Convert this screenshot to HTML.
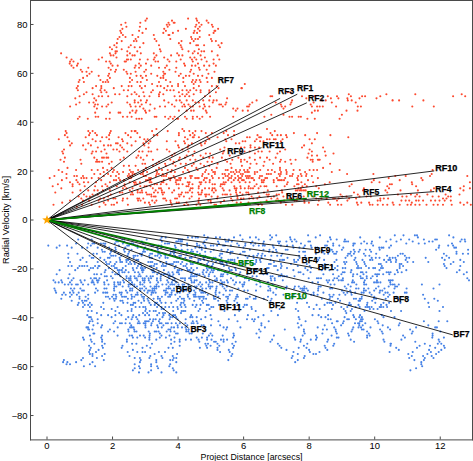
<!DOCTYPE html>
<html><head><meta charset="utf-8"><style>html,body{margin:0;padding:0;background:#fff;width:473px;height:461px;overflow:hidden}svg{display:block}</style></head>
<body><svg width="473" height="461" viewBox="0 0 473 461">
<rect width="473" height="461" fill="#fff"/>
<path fill="none" stroke="#fd4a2f" stroke-width="2.1" stroke-linecap="round" d="M113.9 169.93h0M117.3 171.98h0M116.0 176.07h0M118.8 178.11h0M118.9 174.02h0M112.8 171.98h0M129.8 169.93h0M128.9 174.02h0M127.8 176.07h0M128.9 178.11h0M123.1 171.98h0M130.0 176.07h0M138.1 169.93h0M140.7 174.02h0M132.5 174.02h0M132.2 176.07h0M134.7 174.02h0M131.0 171.98h0M131.0 178.11h0M133.0 171.98h0M143.9 169.93h0M142.8 174.02h0M147.1 171.98h0M143.1 171.98h0M143.8 176.07h0M149.1 178.11h0M145.9 176.07h0M156.1 169.93h0M156.0 176.07h0M150.9 178.11h0M158.8 174.02h0M157.1 171.98h0M156.7 174.02h0M162.0 169.93h0M167.7 169.93h0M163.9 176.07h0M168.9 178.11h0M166.1 176.07h0M166.8 174.02h0M161.8 176.07h0M162.8 174.02h0M171.8 169.93h0M173.7 176.07h0M179.2 178.11h0M171.0 171.98h0M171.0 178.11h0M174.9 171.98h0M174.8 178.11h0M187.7 169.93h0M183.1 171.98h0M181.0 178.11h0M190.2 176.07h0M185.3 178.11h0M189.0 171.98h0M197.7 169.93h0M190.8 178.11h0M197.1 178.11h0M191.9 176.07h0M195.2 178.11h0M198.7 178.11h0M206.0 169.93h0M205.1 171.98h0M206.8 178.11h0M202.7 174.02h0M208.6 174.02h0M204.8 178.11h0M202.1 176.07h0M211.9 169.93h0M218.9 178.11h0M213.2 171.98h0M212.8 178.11h0M214.9 174.02h0M211.9 176.07h0M215.0 171.98h0M227.7 169.93h0M225.7 169.93h0M225.6 176.07h0M228.9 174.02h0M229.1 178.11h0M227.8 176.07h0M224.8 174.02h0M223.2 178.11h0M222.5 174.02h0M240.1 169.93h0M235.9 169.93h0M239.0 178.11h0M231.7 176.07h0M231.0 171.98h0M235.3 178.11h0M239.2 171.98h0M234.8 174.02h0M233.3 171.98h0M238.0 176.07h0M236.7 171.98h0M231.1 178.11h0M240.8 174.02h0M244.1 169.93h0M247.6 169.93h0M247.9 176.07h0M242.1 176.07h0M245.9 176.07h0M249.8 176.07h0M247.1 171.98h0M242.9 174.02h0M248.9 171.98h0M240.9 178.11h0M248.8 178.11h0M245.0 171.98h0M246.8 178.11h0M260.2 169.93h0M257.2 171.98h0M260.0 176.07h0M252.8 178.11h0M259.3 178.11h0M254.8 174.02h0M254.8 171.98h0M251.3 178.11h0M268.0 169.93h0M265.3 178.11h0M267.1 178.11h0M262.0 176.07h0M268.8 174.02h0M271.0 174.02h0M266.8 174.02h0M280.0 169.93h0M271.9 169.93h0M274.8 171.98h0M280.8 174.02h0M276.9 178.11h0M278.8 174.02h0M279.8 176.07h0M286.1 169.93h0M286.7 171.98h0M285.2 178.11h0M281.0 171.98h0M290.0 176.07h0M286.6 174.02h0M299.8 169.93h0M293.6 169.93h0M292.1 176.07h0M298.2 176.07h0M297.3 178.11h0M300.8 174.02h0M292.8 174.02h0M309.6 169.93h0M306.5 174.02h0M305.1 171.98h0M306.1 176.07h0M301.6 176.07h0M120.0 180.16h0M116.1 180.16h0M113.9 180.16h0M116.8 186.29h0M113.4 198.56h0M119.9 192.43h0M115.4 198.56h0M122.9 188.34h0M124.6 184.25h0M129.7 182.20h0M124.7 186.29h0M126.5 188.34h0M124.0 180.16h0M123.0 198.56h0M129.8 190.38h0M130.9 194.47h0M127.3 198.56h0M122.3 192.43h0M132.5 188.34h0M139.9 182.20h0M140.3 186.29h0M134.7 184.25h0M136.7 184.25h0M133.9 182.20h0M135.6 182.20h0M140.1 192.43h0M137.4 198.56h0M133.0 194.47h0M137.6 190.38h0M137.7 192.43h0M132.1 192.43h0M139.2 198.56h0M150.2 180.16h0M146.6 186.29h0M144.6 186.29h0M147.9 180.16h0M149.7 182.20h0M150.5 186.29h0M146.0 180.16h0M146.1 192.43h0M147.1 194.47h0M143.3 198.56h0M149.1 194.47h0M141.8 190.38h0M142.2 192.43h0M151.2 194.47h0M160.9 188.34h0M154.6 184.25h0M160.8 184.25h0M152.8 188.34h0M157.0 184.25h0M159.0 188.34h0M151.4 182.20h0M155.6 190.38h0M157.9 192.43h0M154.0 192.43h0M155.6 196.52h0M151.5 196.52h0M154.0 196.52h0M163.8 180.16h0M169.0 188.34h0M170.2 180.16h0M163.4 182.20h0M166.5 184.25h0M161.8 182.20h0M162.0 192.43h0M161.8 190.38h0M163.3 198.56h0M165.0 198.56h0M162.8 194.47h0M164.1 192.43h0M178.8 188.34h0M176.2 180.16h0M180.2 180.16h0M175.8 182.20h0M176.6 184.25h0M178.7 184.25h0M177.9 180.16h0M179.4 196.52h0M172.2 192.43h0M175.1 198.56h0M178.8 194.47h0M181.0 194.47h0M174.1 190.38h0M177.0 198.56h0M190.7 188.34h0M188.9 184.25h0M186.5 186.29h0M189.6 182.20h0M187.7 182.20h0M182.6 184.25h0M188.4 186.29h0M189.5 198.56h0M187.9 192.43h0M181.9 192.43h0M183.9 196.52h0M185.8 192.43h0M189.8 190.38h0M198.7 188.34h0M192.6 188.34h0M200.7 184.25h0M199.6 182.20h0M192.5 184.25h0M198.8 186.29h0M200.9 194.47h0M199.1 198.56h0M191.7 196.52h0M198.2 192.43h0M199.0 194.47h0M192.2 192.43h0M209.6 182.20h0M209.1 188.34h0M203.8 180.16h0M205.7 182.20h0M201.4 182.20h0M205.0 188.34h0M209.8 180.16h0M205.1 194.47h0M205.8 196.52h0M201.7 192.43h0M202.1 190.38h0M209.1 194.47h0M206.7 194.47h0M214.9 184.25h0M220.9 184.25h0M214.6 188.34h0M212.5 184.25h0M212.6 188.34h0M220.5 186.29h0M215.8 190.38h0M217.7 196.52h0M217.1 198.56h0M211.6 196.52h0M212.1 190.38h0M213.8 192.43h0M224.5 184.25h0M223.7 182.20h0M225.8 182.20h0M222.6 188.34h0M222.6 184.25h0M228.2 180.16h0M229.6 190.38h0M225.1 194.47h0M227.0 194.47h0M230.6 194.47h0M223.8 190.38h0M222.7 194.47h0M234.3 186.29h0M239.7 182.20h0M231.5 182.20h0M240.4 186.29h0M233.8 180.16h0M236.6 188.34h0M234.7 188.34h0M240.8 188.34h0M238.2 180.16h0M236.1 192.43h0M237.4 196.52h0M237.5 198.56h0M236.8 194.47h0M236.0 190.38h0M240.1 192.43h0M231.1 198.56h0M242.1 180.16h0M248.8 186.29h0M245.5 182.20h0M243.8 180.16h0M249.7 182.20h0M250.8 188.34h0M244.8 188.34h0M248.5 188.34h0M242.6 194.47h0M248.9 194.47h0M246.3 192.43h0M248.2 192.43h0M241.0 198.56h0M243.5 198.56h0M249.3 198.56h0M258.6 188.34h0M256.6 184.25h0M260.6 186.29h0M253.0 188.34h0M254.1 180.16h0M254.6 186.29h0M259.4 196.52h0M253.2 198.56h0M251.6 196.52h0M257.3 198.56h0M258.1 192.43h0M261.8 180.16h0M261.9 182.20h0M266.4 186.29h0M263.5 182.20h0M264.5 186.29h0M264.0 180.16h0M267.8 190.38h0M266.7 194.47h0M268.8 194.47h0M264.0 192.43h0M267.9 196.52h0M273.8 182.20h0M279.9 180.16h0M273.7 180.16h0M276.7 186.29h0M278.1 180.16h0M277.4 198.56h0M271.3 198.56h0M273.9 196.52h0M279.0 194.47h0M276.7 194.47h0M286.9 184.25h0M284.0 180.16h0M287.7 182.20h0M284.7 186.29h0M281.8 180.16h0M283.4 196.52h0M289.3 198.56h0M281.9 190.38h0M287.1 194.47h0M282.2 192.43h0M298.5 188.34h0M300.8 188.34h0M297.0 184.25h0M298.6 184.25h0M294.4 186.29h0M297.9 180.16h0M300.0 190.38h0M295.8 190.38h0M297.6 190.38h0M297.2 198.56h0M291.1 198.56h0M302.4 186.29h0M308.0 180.16h0M304.9 184.25h0M301.4 182.20h0M306.8 186.29h0M303.7 196.52h0M303.9 190.38h0M301.8 190.38h0M305.7 190.38h0M307.9 192.43h0M117.0 202.65h0M114.0 204.70h0M122.6 200.61h0M127.9 204.70h0M138.1 200.61h0M140.6 200.61h0M144.9 202.65h0M150.0 204.70h0M149.0 202.65h0M152.2 200.61h0M154.7 202.65h0M156.4 200.61h0M170.8 202.65h0M170.4 200.61h0M166.3 200.61h0M176.7 202.65h0M171.8 204.70h0M178.9 202.65h0M184.3 204.70h0M188.1 204.70h0M186.5 202.65h0M200.3 204.70h0M198.6 202.65h0M198.5 200.61h0M196.4 204.70h0M211.0 202.65h0M208.3 200.61h0M210.6 200.61h0M220.7 202.65h0M216.0 204.70h0M214.4 204.70h0M228.4 204.70h0M224.1 200.61h0M232.5 200.61h0M240.8 202.65h0M236.7 202.65h0M245.9 204.70h0M248.5 202.65h0M260.7 202.65h0M258.3 204.70h0M266.6 200.61h0M262.0 204.70h0M278.5 200.61h0M276.1 200.61h0M280.8 202.65h0M285.9 204.70h0M284.1 200.61h0M292.3 204.70h0M294.6 200.61h0M296.7 200.61h0M304.3 200.61h0M304.5 202.65h0M308.9 202.65h0M314.5 96.31h0M322.3 100.41h0M325.7 100.41h0M327.8 96.31h0M330.9 98.36h0M337.0 96.31h0M338.4 98.36h0M348.8 94.27h0M350.9 96.31h0M347.4 98.36h0M347.8 100.41h0M351.7 100.41h0M359.5 98.36h0M362.1 96.31h0M365.1 96.31h0M376.5 98.36h0M380.3 96.31h0M386.4 94.27h0M392.5 100.41h0M313.6 102.45h0M311.9 106.54h0M317.1 106.54h0M319.7 106.54h0M322.8 106.54h0M331.8 102.45h0M336.1 106.54h0M355.7 102.45h0M357.8 106.54h0M360.9 106.54h0M311.9 112.67h0M314.8 110.63h0M317.9 110.63h0M346.5 110.63h0M357.5 110.63h0M314.8 118.81h0M339.6 118.81h0M341.9 114.72h0M317.1 133.12h0M330.4 135.17h0M348.3 137.21h0M314.8 139.26h0M311.9 143.35h0M323.1 147.44h0M324.9 151.53h0M311.9 151.53h0M333.5 153.57h0M325.7 155.62h0M317.1 155.62h0M311.9 155.62h0M317.9 159.71h0M319.7 159.71h0M312.7 159.71h0M392.7 100.41h0M399.1 100.41h0M415.3 94.27h0M423.4 100.41h0M412.3 106.54h0M433.8 106.54h0M453.1 96.31h0M461.7 94.27h0M465.2 96.31h0M312.7 161.75h0M318.8 159.71h0M330.1 163.80h0M323.1 167.89h0M313.6 169.93h0M317.1 169.93h0M331.8 171.98h0M339.6 169.93h0M347.1 174.02h0M311.9 176.07h0M317.9 178.11h0M373.4 174.02h0M313.1 182.20h0M329.7 182.20h0M324.9 184.25h0M351.7 184.25h0M349.5 186.29h0M371.7 182.20h0M379.5 182.20h0M388.7 178.11h0M389.9 184.25h0M387.3 186.29h0M373.8 180.16h0M316.2 186.29h0M318.8 188.34h0M363.9 188.34h0M363.0 190.38h0M354.0 192.43h0M357.8 194.47h0M340.5 194.47h0M385.5 190.38h0M389.0 188.34h0M387.3 192.43h0M313.6 196.52h0M316.2 198.56h0M321.4 198.56h0M326.6 198.56h0M333.2 198.56h0M334.9 198.56h0M338.7 198.56h0M342.2 196.52h0M346.5 196.52h0M349.1 198.56h0M356.1 198.56h0M359.5 196.52h0M366.5 196.52h0M370.8 196.52h0M380.3 198.56h0M383.8 198.56h0M388.1 198.56h0M318.8 200.61h0M328.3 202.65h0M337.0 200.61h0M347.4 200.61h0M356.9 202.65h0M361.3 202.65h0M369.1 202.65h0M377.7 200.61h0M380.3 200.61h0M317.9 204.70h0M330.1 204.70h0M337.9 204.70h0M341.3 204.70h0M357.8 204.70h0M369.9 204.70h0M372.5 204.70h0M377.7 204.70h0M382.9 204.70h0M387.3 204.70h0M432.6 169.93h0M431.7 174.02h0M430.0 176.07h0M395.3 176.07h0M405.7 176.07h0M421.3 178.11h0M422.6 180.16h0M399.7 180.16h0M411.8 182.20h0M412.2 184.25h0M391.9 184.25h0M416.1 186.29h0M434.0 188.34h0M417.9 190.38h0M400.5 190.38h0M467.3 176.07h0M469.9 182.20h0M469.9 188.34h0M463.8 186.29h0M460.3 188.34h0M463.5 190.38h0M459.5 194.47h0M430.9 190.38h0M397.9 194.47h0M402.3 196.52h0M406.6 196.52h0M410.9 194.47h0M415.3 196.52h0M417.0 194.47h0M419.6 196.52h0M427.4 194.47h0M432.6 196.52h0M438.7 196.52h0M445.6 194.47h0M448.2 196.52h0M450.8 196.52h0M443.0 198.56h0M446.5 198.56h0M392.7 202.65h0M401.4 200.61h0M405.7 200.61h0M409.2 200.61h0M411.8 202.65h0M416.1 200.61h0M418.7 200.61h0M423.1 200.61h0M430.9 200.61h0M435.2 200.61h0M439.5 200.61h0M444.7 200.61h0M450.8 200.61h0M460.3 202.65h0M467.3 202.65h0M393.6 204.70h0M399.7 204.70h0M407.5 204.70h0M410.9 204.70h0M415.3 204.70h0M419.6 204.70h0M426.5 204.70h0M433.5 204.70h0M437.8 204.70h0M443.0 204.70h0M451.7 204.70h0M463.8 204.70h0M470.8 204.70h0M125.5 22.69h0M121.2 24.74h0M126.4 26.79h0M122.4 28.83h0M120.3 30.87h0M121.2 32.92h0M122.9 34.97h0M119.5 37.01h0M125.5 37.01h0M117.7 39.05h0M121.7 41.10h0M132.5 34.97h0M116.9 43.15h0M114.3 45.19h0M116.5 47.23h0M109.9 47.23h0M112.0 49.28h0M121.7 49.28h0M130.8 45.19h0M128.7 47.23h0M127.3 51.33h0M115.5 51.33h0M116.9 51.33h0M129.9 53.37h0M109.9 53.37h0M110.8 55.41h0M113.4 55.41h0M116.5 57.46h0M115.5 53.37h0M127.3 55.41h0M132.5 55.41h0M61.1 53.37h0M66.6 57.46h0M71.5 59.51h0M70.1 61.55h0M73.5 61.55h0M80.8 59.51h0M98.7 59.51h0M102.1 57.46h0M106.1 61.55h0M109.6 61.55h0M110.8 63.59h0M112.5 65.64h0M117.7 65.64h0M126.9 59.51h0M125.9 61.55h0M124.7 61.55h0M128.1 59.51h0M130.8 59.51h0M69.7 63.59h0M71.5 65.64h0M77.0 65.64h0M77.9 63.59h0M73.5 67.69h0M88.3 67.69h0M108.6 67.69h0M110.8 69.73h0M116.0 69.73h0M115.1 71.78h0M123.8 69.73h0M126.4 71.78h0M127.3 73.82h0M130.8 73.82h0M132.1 79.95h0M80.8 69.73h0M82.2 71.78h0M86.5 71.78h0M91.7 71.78h0M89.5 73.82h0M87.1 75.86h0M98.7 75.86h0M109.1 73.82h0M108.2 75.86h0M109.9 77.91h0M129.9 77.91h0M83.1 77.91h0M79.6 79.95h0M78.7 82.00h0M83.9 82.00h0M100.4 79.95h0M103.0 82.00h0M107.3 79.95h0M105.6 82.00h0M77.9 86.09h0M96.1 86.09h0M101.3 86.09h0M108.2 82.00h0M129.9 82.00h0M128.7 86.09h0M76.7 88.14h0M77.9 90.18h0M92.6 88.14h0M101.3 88.14h0M100.4 90.18h0M104.7 90.18h0M113.8 88.14h0M121.7 86.09h0M123.8 90.18h0M128.1 90.18h0M131.6 86.09h0M86.5 92.22h0M106.5 92.22h0M101.3 92.22h0M83.9 94.27h0M79.6 96.31h0M92.6 94.27h0M115.1 94.27h0M119.5 94.27h0M127.3 96.31h0M131.6 94.27h0M75.3 98.36h0M79.6 102.45h0M94.3 98.36h0M96.1 100.41h0M98.7 96.31h0M102.1 96.31h0M108.2 96.31h0M111.7 102.45h0M127.3 102.45h0M129.9 104.50h0M70.1 106.54h0M76.1 104.50h0M89.1 102.45h0M93.5 102.45h0M95.2 104.50h0M97.8 104.50h0M94.3 106.54h0M96.9 108.58h0M95.2 112.67h0M102.1 106.54h0M106.5 106.54h0M108.2 104.50h0M130.8 106.54h0M132.5 110.63h0M109.9 112.67h0M118.6 112.67h0M120.3 112.67h0M129.9 112.67h0M77.9 118.81h0M79.6 116.77h0M87.8 118.81h0M95.7 116.77h0M98.2 116.77h0M106.1 118.81h0M109.6 118.81h0M122.9 116.77h0M127.3 116.77h0M131.6 116.77h0M65.7 131.08h0M64.9 135.17h0M67.5 137.21h0M66.6 133.12h0M58.8 139.26h0M69.2 141.30h0M71.8 143.35h0M70.1 145.39h0M88.3 131.08h0M90.0 133.12h0M92.6 131.08h0M96.9 135.17h0M95.2 133.12h0M110.8 131.08h0M109.9 133.12h0M109.1 135.17h0M125.5 133.12h0M128.1 135.17h0M131.6 131.08h0M85.7 137.21h0M89.1 135.17h0M92.6 139.26h0M95.7 141.30h0M100.4 141.30h0M102.1 137.21h0M106.5 137.21h0M109.1 139.26h0M118.6 137.21h0M122.1 139.26h0M122.9 141.30h0M130.8 137.21h0M83.1 145.39h0M88.3 143.35h0M90.9 145.39h0M97.8 147.44h0M103.9 145.39h0M108.2 145.39h0M110.8 145.39h0M116.0 143.35h0M117.7 143.35h0M120.3 145.39h0M122.1 147.44h0M127.3 143.35h0M131.6 145.39h0M64.0 149.48h0M62.3 151.53h0M63.1 153.57h0M64.9 157.66h0M85.7 149.48h0M92.6 151.53h0M91.7 153.57h0M96.1 151.53h0M101.3 151.53h0M104.7 149.48h0M106.5 153.57h0M113.4 149.48h0M116.9 149.48h0M119.5 151.53h0M123.8 149.48h0M127.3 151.53h0M60.5 159.71h0M64.0 161.75h0M80.5 159.71h0M94.3 157.66h0M96.9 159.71h0M97.8 161.75h0M99.5 161.75h0M96.1 161.75h0M102.1 157.66h0M103.9 157.66h0M106.5 157.66h0M102.1 161.75h0M108.2 157.66h0M111.7 161.75h0M120.3 159.71h0M123.8 157.66h0M67.5 167.89h0M81.3 163.80h0M103.0 167.89h0M109.1 163.80h0M123.8 165.84h0M129.0 165.84h0M146.9 18.61h0M188.1 18.61h0M196.3 18.61h0M145.5 20.65h0M172.0 20.65h0M173.7 22.69h0M197.1 20.65h0M206.7 20.65h0M140.3 22.69h0M168.5 22.69h0M174.6 22.69h0M198.9 22.69h0M201.5 24.74h0M208.4 22.69h0M139.9 26.79h0M166.8 24.74h0M169.4 24.74h0M196.3 24.74h0M211.9 24.74h0M146.0 28.83h0M164.2 28.83h0M167.7 26.79h0M185.9 28.83h0M195.4 26.79h0M198.0 28.83h0M199.7 26.79h0M212.8 26.79h0M139.1 30.87h0M165.9 30.87h0M172.9 32.92h0M178.1 30.87h0M194.5 30.87h0M199.7 30.87h0M214.5 30.87h0M142.5 32.92h0M163.3 32.92h0M168.5 34.97h0M193.7 32.92h0M197.1 32.92h0M213.6 32.92h0M153.8 34.97h0M169.4 34.97h0M191.1 37.01h0M199.7 37.01h0M209.3 34.97h0M135.6 39.05h0M138.2 37.01h0M154.7 39.05h0M170.3 39.05h0M191.9 39.05h0M195.4 39.05h0M198.0 39.05h0M211.0 39.05h0M133.9 41.10h0M136.5 41.10h0M156.4 41.10h0M181.5 41.10h0M178.9 43.15h0M193.7 41.10h0M211.9 41.10h0M143.4 43.15h0M159.0 45.19h0M180.7 45.19h0M190.2 43.15h0M196.3 45.19h0M198.0 45.19h0M204.1 45.19h0M134.7 47.23h0M139.9 47.23h0M159.9 49.28h0M181.5 47.23h0M182.4 49.28h0M198.9 49.28h0M201.5 51.33h0M137.3 51.33h0M160.7 51.33h0M188.5 51.33h0M194.5 51.33h0M204.1 51.33h0M211.9 51.33h0M140.8 53.37h0M153.8 53.37h0M177.2 53.37h0M192.8 53.37h0M198.0 53.37h0M200.6 55.41h0M134.7 55.41h0M154.7 57.46h0M156.4 55.41h0M164.2 57.46h0M171.1 55.41h0M178.9 55.41h0M182.4 55.41h0M190.2 57.46h0M194.5 57.46h0M204.9 57.46h0M139.9 59.51h0M147.7 59.51h0M153.8 59.51h0M167.7 59.51h0M180.7 59.51h0M191.9 59.51h0M196.3 59.51h0M201.5 59.51h0M213.6 59.51h0M139.1 63.59h0M146.0 63.59h0M155.5 61.55h0M158.1 61.55h0M169.4 61.55h0M176.3 61.55h0M184.1 63.59h0M192.8 61.55h0M198.0 63.59h0M206.7 61.55h0M213.6 63.59h0M135.6 65.64h0M140.8 65.64h0M151.2 65.64h0M166.8 65.64h0M185.0 65.64h0M191.9 65.64h0M195.4 65.64h0M198.9 67.69h0M204.1 65.64h0M209.3 65.64h0M134.7 67.69h0M139.1 67.69h0M146.0 69.73h0M159.0 67.69h0M165.1 67.69h0M169.4 69.73h0M176.3 67.69h0M191.1 69.73h0M199.7 69.73h0M206.7 69.73h0M135.6 71.78h0M144.3 71.78h0M151.2 73.82h0M163.3 71.78h0M164.2 73.82h0M175.5 71.78h0M180.7 73.82h0M190.2 71.78h0M193.7 73.82h0M208.4 73.82h0M214.5 71.78h0M136.5 75.86h0M140.8 75.86h0M146.0 75.86h0M157.3 75.86h0M163.3 75.86h0M165.1 73.82h0M178.9 75.86h0M185.9 75.86h0M189.3 75.86h0M198.0 75.86h0M202.3 75.86h0M206.7 77.91h0M142.5 77.91h0M146.9 79.95h0M160.7 77.91h0M163.3 77.91h0M183.3 77.91h0M192.8 79.95h0M196.3 79.95h0M199.7 79.95h0M211.9 77.91h0M137.3 82.00h0M140.8 82.00h0M152.1 84.05h0M159.0 82.00h0M165.9 79.95h0M170.3 82.00h0M178.1 84.05h0M183.3 82.00h0M191.9 82.00h0M195.4 82.00h0M200.6 82.00h0M207.5 82.00h0M139.9 86.09h0M145.1 86.09h0M157.3 86.09h0M160.7 86.09h0M167.7 86.09h0M172.0 86.09h0M178.1 86.09h0M185.0 86.09h0M193.7 84.05h0M198.9 86.09h0M211.9 86.09h0M141.7 88.14h0M152.9 90.18h0M164.2 88.14h0M166.8 90.18h0M170.3 90.18h0M173.7 90.18h0M182.4 90.18h0M186.7 90.18h0M190.2 90.18h0M193.7 88.14h0M196.3 90.18h0M200.6 90.18h0M209.3 90.18h0M134.7 92.22h0M143.4 92.22h0M151.2 92.22h0M159.9 92.22h0M178.9 92.22h0M188.5 92.22h0M200.6 92.22h0M209.3 92.22h0M136.5 94.27h0M159.0 94.27h0M163.3 94.27h0M182.4 94.27h0M186.7 94.27h0M193.7 94.27h0M139.1 96.31h0M144.3 96.31h0M149.5 96.31h0M159.0 96.31h0M174.6 96.31h0M179.8 96.31h0M185.0 96.31h0M189.3 96.31h0M204.9 96.31h0M210.1 96.31h0M134.7 100.41h0M140.8 100.41h0M146.9 100.41h0M164.2 100.41h0M176.3 100.41h0M179.8 100.41h0M186.7 100.41h0M192.8 100.41h0M203.2 100.41h0M209.3 100.41h0M213.6 100.41h0M134.7 102.45h0M138.2 102.45h0M141.7 104.50h0M146.0 102.45h0M150.3 104.50h0M168.5 102.45h0M172.0 104.50h0M181.5 102.45h0M184.1 104.50h0M188.5 104.50h0M195.4 102.45h0M198.9 102.45h0M204.1 104.50h0M212.8 102.45h0M135.6 106.54h0M139.9 106.54h0M143.4 108.58h0M154.7 108.58h0M159.9 106.54h0M165.1 106.54h0M174.6 106.54h0M182.4 106.54h0M185.0 106.54h0M190.2 106.54h0M192.8 106.54h0M199.7 106.54h0M204.9 106.54h0M209.3 106.54h0M136.5 110.63h0M145.1 110.63h0M149.5 110.63h0M178.9 110.63h0M186.7 110.63h0M191.1 110.63h0M193.7 110.63h0M203.2 108.58h0M205.8 110.63h0M135.6 112.67h0M146.0 112.67h0M206.7 112.67h0M154.7 116.77h0M156.4 116.77h0M165.1 116.77h0M170.3 116.77h0M174.6 116.77h0M177.2 118.81h0M185.0 116.77h0M192.8 116.77h0M192.8 118.81h0M197.1 116.77h0M199.7 118.81h0M202.3 116.77h0M210.1 116.77h0M136.5 118.81h0M139.1 118.81h0M141.7 118.81h0M168.5 118.81h0M172.9 118.81h0M178.1 118.81h0M186.7 118.81h0M135.6 131.08h0M182.4 129.03h0M184.1 131.08h0M189.3 131.08h0M192.8 133.12h0M195.4 131.08h0M201.5 131.08h0M205.8 133.12h0M134.7 131.08h0M137.3 133.12h0M152.1 131.08h0M156.4 129.03h0M167.7 131.08h0M178.9 133.12h0M190.2 135.17h0M194.5 135.17h0M193.7 137.21h0M211.9 133.12h0M139.9 137.21h0M144.3 139.26h0M153.8 135.17h0M157.3 135.17h0M178.9 135.17h0M185.0 137.21h0M192.8 137.21h0M198.9 137.21h0M207.5 137.21h0M135.6 141.30h0M147.7 139.26h0M150.3 141.30h0M166.8 141.30h0M175.5 141.30h0M184.1 141.30h0M187.6 139.26h0M205.8 141.30h0M209.3 139.26h0M143.4 143.35h0M146.0 141.30h0M148.6 143.35h0M178.1 145.39h0M185.0 143.35h0M188.5 145.39h0M191.9 143.35h0M200.6 143.35h0M204.9 143.35h0M144.3 145.39h0M148.6 147.44h0M157.3 149.48h0M166.8 149.48h0M178.9 147.44h0M187.6 147.44h0M201.5 145.39h0M139.1 151.53h0M142.5 151.53h0M148.6 151.53h0M151.2 151.53h0M169.4 151.53h0M182.4 149.48h0M188.5 151.53h0M194.5 151.53h0M138.2 155.62h0M140.8 157.66h0M146.9 155.62h0M172.0 155.62h0M174.6 153.57h0M179.8 157.66h0M186.7 155.62h0M192.8 155.62h0M200.6 155.62h0M205.8 153.57h0M210.1 153.57h0M136.5 157.66h0M143.4 159.71h0M152.9 159.71h0M159.0 161.75h0M170.3 159.71h0M173.7 161.75h0M178.9 159.71h0M185.0 157.66h0M190.2 159.71h0M195.4 159.71h0M203.2 157.66h0M209.3 157.66h0M212.8 157.66h0M142.5 163.80h0M145.1 163.80h0M156.4 163.80h0M165.1 163.80h0M172.9 163.80h0M180.7 163.80h0M185.9 163.80h0M193.7 163.80h0M200.6 163.80h0M207.5 161.75h0M211.9 161.75h0M135.6 165.84h0M146.0 167.89h0M152.9 165.84h0M159.0 167.89h0M165.9 165.84h0M175.5 165.84h0M185.0 167.89h0M191.9 165.84h0M196.3 167.89h0M204.1 165.84h0M209.3 165.84h0M218.1 28.83h0M215.3 30.87h0M215.9 41.10h0M221.6 43.15h0M218.5 45.19h0M219.9 47.23h0M217.6 55.41h0M219.3 59.51h0M215.9 65.64h0M216.7 86.09h0M218.5 88.14h0M241.4 88.14h0M241.9 88.14h0M244.8 84.05h0M215.9 92.22h0M227.1 98.36h0M270.5 96.31h0M272.2 96.31h0M287.8 92.22h0M290.4 92.22h0M216.7 100.41h0M219.3 104.50h0M221.1 104.50h0M222.8 106.54h0M225.4 104.50h0M226.3 102.45h0M249.7 104.50h0M252.3 102.45h0M256.6 100.41h0M248.8 106.54h0M247.1 106.54h0M233.2 108.58h0M235.8 110.63h0M237.5 108.58h0M242.7 110.63h0M247.9 110.63h0M275.7 102.45h0M280.9 104.50h0M281.7 106.54h0M283.5 108.58h0M285.2 106.54h0M291.3 102.45h0M290.4 104.50h0M292.1 100.41h0M233.2 116.77h0M264.4 116.77h0M271.3 114.72h0M283.5 114.72h0M289.5 116.77h0M292.1 116.77h0M226.3 131.08h0M234.1 131.08h0M267.0 129.03h0M270.5 133.12h0M274.8 131.08h0M293.9 133.12h0M223.7 133.12h0M228.0 135.17h0M234.1 135.17h0M257.5 135.17h0M259.2 137.21h0M272.2 135.17h0M277.4 135.17h0M280.9 135.17h0M286.1 135.17h0M217.6 137.21h0M225.4 139.26h0M231.5 139.26h0M247.1 137.21h0M249.7 137.21h0M256.6 139.26h0M260.9 137.21h0M267.0 139.26h0M269.6 139.26h0M275.7 139.26h0M282.6 139.26h0M286.9 137.21h0M226.3 141.30h0M235.8 143.35h0M239.3 143.35h0M242.7 141.30h0M245.3 141.30h0M250.5 145.39h0M254.9 141.30h0M260.1 141.30h0M263.5 141.30h0M273.9 139.26h0M280.9 141.30h0M220.2 149.48h0M224.5 147.44h0M241.0 147.44h0M244.5 147.44h0M250.5 147.44h0M254.9 147.44h0M259.2 147.44h0M282.6 147.44h0M285.2 149.48h0M223.7 151.53h0M222.8 153.57h0M229.7 155.62h0M244.5 151.53h0M249.7 151.53h0M254.9 153.57h0M258.3 151.53h0M261.8 151.53h0M269.6 151.53h0M277.4 153.57h0M280.0 151.53h0M221.9 157.66h0M225.4 159.71h0M232.3 159.71h0M238.4 157.66h0M241.0 159.71h0M244.5 159.71h0M249.7 157.66h0M254.9 159.71h0M260.1 157.66h0M267.0 157.66h0M269.6 159.71h0M275.7 157.66h0M280.9 159.71h0M290.4 159.71h0M295.6 159.71h0M217.6 163.80h0M227.1 161.75h0M230.6 163.80h0M241.0 161.75h0M247.1 161.75h0M250.5 163.80h0M256.6 163.80h0M264.4 161.75h0M273.1 163.80h0M280.0 161.75h0M285.2 161.75h0M291.3 163.80h0M216.7 167.89h0M231.5 167.89h0M241.9 165.84h0M249.7 167.89h0M263.5 165.84h0M280.0 167.89h0M298.7 116.77h0M300.9 116.77h0M302.0 96.31h0M306.3 98.36h0M307.4 118.81h0M310.7 104.50h0M305.2 135.17h0M309.6 139.26h0M302.0 147.44h0M304.1 145.39h0M309.6 149.48h0M308.5 153.57h0M307.4 157.66h0M310.7 159.71h0M58.7 169.93h0M76.1 169.93h0M91.7 169.93h0M97.7 169.93h0M107.3 169.93h0M111.6 167.89h0M62.2 171.98h0M66.5 174.02h0M83.0 176.07h0M94.3 174.02h0M100.3 174.02h0M103.8 171.98h0M108.1 174.02h0M54.4 176.07h0M49.7 178.11h0M74.3 176.07h0M76.9 176.07h0M81.3 178.11h0M83.9 178.11h0M86.5 178.11h0M91.7 178.11h0M98.6 178.11h0M103.8 176.07h0M110.8 176.07h0M61.9 180.16h0M66.5 178.11h0M70.0 182.20h0M72.6 184.25h0M76.4 180.16h0M77.8 182.20h0M79.5 184.25h0M83.9 182.20h0M88.2 182.20h0M96.0 182.20h0M101.2 180.16h0M105.5 184.25h0M109.9 182.20h0M57.9 184.25h0M52.7 186.29h0M61.3 188.34h0M72.6 186.29h0M84.7 186.29h0M95.1 186.29h0M102.1 186.29h0M107.3 186.29h0M55.3 192.43h0M72.6 192.43h0M80.4 190.38h0M88.2 190.38h0M94.3 190.38h0M97.7 190.38h0M102.9 190.38h0M109.9 190.38h0M78.7 196.52h0M81.3 198.56h0M83.9 194.47h0M86.5 196.52h0M89.9 196.52h0M92.5 194.47h0M97.7 194.47h0M100.3 198.56h0M103.8 198.56h0M108.1 196.52h0M110.8 194.47h0M53.5 204.70h0M62.2 202.65h0M70.0 200.61h0M83.0 200.61h0M89.1 200.61h0M98.6 200.61h0M103.8 202.65h0M108.1 200.61h0M76.9 206.74h0M82.1 204.70h0M91.7 204.70h0M99.5 206.74h0M105.5 204.70h0M111.6 204.70h0"/>
<path fill="none" stroke="#4682e6" stroke-width="2.1" stroke-linecap="round" d="M122.3 239.46h0M146.7 239.46h0M160.5 239.46h0M161.7 237.42h0M165.7 237.42h0M178.8 239.46h0M180.8 239.46h0M187.9 237.42h0M182.4 239.46h0M197.9 237.42h0M195.7 237.42h0M192.2 237.42h0M207.8 237.42h0M206.5 239.46h0M204.2 235.37h0M220.0 237.42h0M215.9 237.42h0M224.9 239.46h0M228.9 239.46h0M240.2 235.37h0M234.0 237.42h0M242.6 239.46h0M250.0 237.42h0M258.7 239.46h0M255.9 237.42h0M270.1 235.37h0M270.4 239.46h0M272.0 237.42h0M276.2 235.37h0M290.7 239.46h0M290.1 237.42h0M294.7 239.46h0M308.1 235.37h0M315.7 237.42h0M320.1 235.37h0M330.0 237.42h0M330.8 239.46h0M336.7 239.46h0M344.9 239.46h0M360.2 237.42h0M379.8 237.42h0M390.6 239.46h0M109.1 247.64h0M101.9 249.69h0M105.3 243.55h0M103.3 243.55h0M100.9 243.55h0M104.8 245.60h0M110.0 253.78h0M102.7 251.73h0M104.8 251.73h0M104.4 259.91h0M109.6 257.87h0M111.0 251.73h0M107.9 257.87h0M114.9 243.55h0M118.0 241.51h0M118.9 245.60h0M116.3 241.51h0M111.5 249.69h0M115.4 247.64h0M115.8 249.69h0M115.6 255.82h0M113.2 255.82h0M118.4 253.78h0M120.1 259.91h0M114.9 251.73h0M119.6 257.87h0M111.2 255.82h0M123.9 249.69h0M122.9 243.55h0M127.2 245.60h0M124.3 241.51h0M128.9 245.60h0M125.3 247.64h0M129.3 243.55h0M128.1 259.91h0M127.5 255.82h0M124.7 251.73h0M121.2 255.82h0M129.2 251.73h0M129.4 257.87h0M126.3 259.91h0M128.3 253.78h0M137.6 247.64h0M133.2 243.55h0M131.6 249.69h0M137.2 245.60h0M131.3 243.55h0M135.4 245.60h0M133.5 255.82h0M135.3 255.82h0M133.7 257.87h0M136.4 259.91h0M140.0 253.78h0M138.2 259.91h0M137.6 255.82h0M145.2 247.64h0M143.0 243.55h0M147.4 249.69h0M141.8 241.51h0M143.8 249.69h0M149.9 257.87h0M149.3 255.82h0M143.1 251.73h0M145.0 251.73h0M141.6 255.82h0M150.2 253.78h0M142.0 253.78h0M151.3 245.60h0M157.2 247.64h0M153.2 245.60h0M151.5 249.69h0M158.8 245.60h0M157.9 249.69h0M157.4 255.82h0M152.1 253.78h0M155.2 255.82h0M159.5 257.87h0M158.3 253.78h0M160.0 253.78h0M151.9 257.87h0M161.9 241.51h0M161.3 247.64h0M165.0 243.55h0M167.3 243.55h0M161.3 245.60h0M169.1 243.55h0M161.0 255.82h0M167.7 257.87h0M164.0 253.78h0M170.9 251.73h0M165.5 257.87h0M165.3 255.82h0M170.4 253.78h0M173.8 249.69h0M180.2 241.51h0M174.9 245.60h0M175.7 247.64h0M177.9 249.69h0M176.3 241.51h0M178.0 241.51h0M177.3 257.87h0M172.8 251.73h0M173.9 253.78h0M179.3 255.82h0M175.1 255.82h0M174.8 251.73h0M181.2 251.73h0M187.1 243.55h0M181.3 245.60h0M187.6 249.69h0M181.7 249.69h0M181.9 241.51h0M187.2 245.60h0M185.0 251.73h0M181.0 255.82h0M186.4 253.78h0M185.4 257.87h0M190.9 251.73h0M182.8 251.73h0M189.9 257.87h0M196.9 243.55h0M199.4 245.60h0M199.5 247.64h0M197.2 245.60h0M191.7 249.69h0M195.4 247.64h0M195.2 255.82h0M193.0 251.73h0M199.9 253.78h0M191.6 257.87h0M197.2 251.73h0M200.4 259.91h0M198.4 259.91h0M204.9 245.60h0M201.8 249.69h0M203.3 243.55h0M204.4 241.51h0M205.7 247.64h0M201.6 247.64h0M205.3 255.82h0M204.2 259.91h0M210.7 251.73h0M205.2 251.73h0M207.7 257.87h0M203.1 255.82h0M203.5 257.87h0M213.7 249.69h0M217.1 245.60h0M210.9 245.60h0M218.0 241.51h0M218.9 243.55h0M213.3 245.60h0M219.6 255.82h0M220.3 259.91h0M215.6 257.87h0M212.2 259.91h0M213.7 257.87h0M220.3 253.78h0M218.3 259.91h0M224.9 245.60h0M225.9 241.51h0M228.1 241.51h0M221.5 249.69h0M227.9 249.69h0M223.1 245.60h0M227.0 251.73h0M230.8 251.73h0M221.5 257.87h0M222.1 253.78h0M230.3 253.78h0M228.3 259.91h0M230.5 259.91h0M238.9 245.60h0M230.9 245.60h0M231.8 241.51h0M237.2 243.55h0M232.1 259.91h0M234.4 259.91h0M237.8 257.87h0M232.6 251.73h0M240.3 253.78h0M243.5 247.64h0M245.2 245.60h0M249.9 249.69h0M245.4 243.55h0M249.1 255.82h0M247.5 257.87h0M244.7 251.73h0M245.5 255.82h0M243.0 251.73h0M255.3 243.55h0M250.9 243.55h0M252.4 241.51h0M258.8 245.60h0M253.4 245.60h0M257.2 255.82h0M253.7 257.87h0M258.2 253.78h0M256.2 259.91h0M260.0 259.91h0M253.4 255.82h0M269.5 249.69h0M264.8 245.60h0M263.9 241.51h0M263.2 243.55h0M263.5 249.69h0M262.9 245.60h0M265.0 255.82h0M270.5 259.91h0M261.6 257.87h0M269.0 251.73h0M261.5 255.82h0M262.4 253.78h0M279.0 243.55h0M276.0 249.69h0M272.8 245.60h0M273.7 247.64h0M278.1 241.51h0M280.0 241.51h0M279.9 259.91h0M271.3 255.82h0M277.2 255.82h0M272.9 251.73h0M276.7 251.73h0M285.7 249.69h0M280.9 245.60h0M286.4 241.51h0M287.6 249.69h0M287.1 245.60h0M282.2 253.78h0M282.2 259.91h0M287.5 257.87h0M281.2 255.82h0M284.0 259.91h0M296.4 241.51h0M292.8 245.60h0M292.0 241.51h0M293.5 247.64h0M299.4 247.64h0M298.1 259.91h0M299.6 257.87h0M299.2 251.73h0M294.1 259.91h0M299.0 255.82h0M308.4 241.51h0M304.9 245.60h0M303.6 247.64h0M310.0 241.51h0M301.0 243.55h0M305.0 251.73h0M306.1 259.91h0M305.2 255.82h0M303.2 251.73h0M315.4 247.64h0M311.6 247.64h0M310.9 245.60h0M317.4 247.64h0M318.3 259.91h0M319.5 257.87h0M315.9 253.78h0M315.3 257.87h0M326.9 245.60h0M321.9 249.69h0M325.1 245.60h0M327.8 241.51h0M328.1 253.78h0M324.1 259.91h0M324.4 253.78h0M323.2 251.73h0M331.8 249.69h0M339.3 245.60h0M333.2 245.60h0M333.2 243.55h0M336.8 251.73h0M336.5 259.91h0M332.8 251.73h0M335.9 253.78h0M334.2 253.78h0M348.1 241.51h0M344.2 241.51h0M346.0 241.51h0M343.3 247.64h0M341.9 249.69h0M345.5 257.87h0M347.5 255.82h0M350.0 253.78h0M348.2 253.78h0M350.8 251.73h0M353.4 243.55h0M353.8 249.69h0M354.8 243.55h0M359.8 249.69h0M353.2 245.60h0M355.4 257.87h0M353.9 253.78h0M354.8 251.73h0M358.7 251.73h0M351.5 255.82h0M354.4 259.91h0M367.0 243.55h0M365.6 249.69h0M369.9 249.69h0M364.2 241.51h0M361.2 243.55h0M365.4 255.82h0M370.1 259.91h0M362.5 259.91h0M363.9 253.78h0M371.1 251.73h0M369.4 255.82h0M379.7 249.69h0M371.4 243.55h0M379.2 247.64h0M373.1 245.60h0M372.0 241.51h0M376.2 253.78h0M372.4 259.91h0M371.7 257.87h0M379.5 257.87h0M375.8 257.87h0M383.4 247.64h0M389.2 247.64h0M386.2 241.51h0M381.5 247.64h0M384.1 259.91h0M389.7 257.87h0M388.4 259.91h0M390.3 259.91h0M387.1 255.82h0M110.4 261.96h0M106.9 264.00h0M109.1 264.00h0M108.8 268.09h0M106.0 261.96h0M111.0 276.27h0M105.5 270.14h0M104.8 276.27h0M104.7 272.19h0M106.8 276.27h0M101.2 274.23h0M114.9 264.00h0M111.7 266.05h0M116.4 261.96h0M116.7 268.09h0M114.9 268.09h0M120.3 261.96h0M113.9 266.05h0M119.2 274.23h0M119.7 270.14h0M112.5 272.19h0M120.4 276.27h0M112.6 278.32h0M118.8 272.19h0M115.2 274.23h0M117.8 270.14h0M117.3 274.23h0M126.5 261.96h0M125.7 266.05h0M131.2 264.00h0M128.7 264.00h0M122.1 261.96h0M130.1 261.96h0M122.8 268.09h0M121.8 270.14h0M122.4 272.19h0M124.5 272.19h0M125.8 270.14h0M126.6 278.32h0M126.5 276.27h0M128.9 278.32h0M128.6 272.19h0M130.6 278.32h0M130.6 276.27h0M134.8 264.00h0M140.8 264.00h0M138.9 264.00h0M132.8 268.09h0M134.2 261.96h0M136.8 268.09h0M137.9 266.05h0M135.1 278.32h0M140.6 276.27h0M138.3 272.19h0M134.9 272.19h0M134.4 276.27h0M136.6 278.32h0M138.5 276.27h0M139.5 274.23h0M133.4 270.14h0M145.1 268.09h0M150.5 261.96h0M140.9 268.09h0M141.6 266.05h0M148.3 261.96h0M150.1 266.05h0M142.8 268.09h0M143.5 270.14h0M142.6 278.32h0M148.6 278.32h0M146.6 276.27h0M150.6 276.27h0M141.9 270.14h0M142.6 272.19h0M144.8 278.32h0M151.1 278.32h0M156.7 268.09h0M156.8 264.00h0M160.4 261.96h0M152.3 261.96h0M151.6 266.05h0M154.7 264.00h0M153.9 266.05h0M160.6 278.32h0M160.8 276.27h0M154.4 272.19h0M157.2 274.23h0M152.9 276.27h0M151.7 270.14h0M152.8 272.19h0M158.7 272.19h0M153.5 270.14h0M157.0 278.32h0M161.8 266.05h0M166.3 261.96h0M169.1 264.00h0M171.0 264.00h0M166.8 264.00h0M163.9 266.05h0M165.8 266.05h0M162.8 264.00h0M169.5 274.23h0M163.4 274.23h0M167.1 274.23h0M165.0 274.23h0M168.5 272.19h0M161.2 274.23h0M169.1 278.32h0M170.7 276.27h0M168.7 276.27h0M163.9 270.14h0M172.9 264.00h0M180.8 264.00h0M174.1 261.96h0M174.7 268.09h0M178.2 261.96h0M175.8 266.05h0M176.2 261.96h0M176.9 272.19h0M179.4 270.14h0M181.0 278.32h0M172.6 276.27h0M178.4 272.19h0M177.7 270.14h0M173.4 274.23h0M172.5 272.19h0M179.1 274.23h0M174.6 278.32h0M186.9 268.09h0M186.7 264.00h0M183.5 266.05h0M190.9 264.00h0M190.3 261.96h0M182.2 261.96h0M185.6 266.05h0M190.6 272.19h0M185.0 278.32h0M181.7 270.14h0M189.7 270.14h0M190.7 278.32h0M190.9 276.27h0M189.1 278.32h0M182.9 278.32h0M187.8 270.14h0M191.3 268.09h0M197.0 268.09h0M194.5 261.96h0M201.0 264.00h0M192.8 264.00h0M198.1 261.96h0M192.9 276.27h0M193.5 270.14h0M195.3 274.23h0M191.5 274.23h0M192.4 272.19h0M194.5 276.27h0M197.1 274.23h0M196.6 276.27h0M199.4 274.23h0M206.8 268.09h0M206.0 266.05h0M208.3 261.96h0M207.1 264.00h0M207.7 266.05h0M209.2 268.09h0M204.8 276.27h0M203.3 274.23h0M206.4 272.19h0M210.4 272.19h0M202.7 272.19h0M208.7 276.27h0M203.6 270.14h0M207.6 270.14h0M209.1 274.23h0M221.2 264.00h0M211.0 268.09h0M220.1 261.96h0M212.0 266.05h0M216.0 261.96h0M213.0 264.00h0M218.0 270.14h0M212.9 272.19h0M213.8 270.14h0M211.7 270.14h0M214.7 276.27h0M220.8 276.27h0M219.6 270.14h0M216.7 278.32h0M222.2 261.96h0M226.8 264.00h0M222.8 264.00h0M226.0 261.96h0M223.9 266.05h0M228.9 268.09h0M226.6 272.19h0M227.5 274.23h0M229.7 270.14h0M221.2 274.23h0M223.2 274.23h0M224.8 272.19h0M231.0 278.32h0M222.7 276.27h0M235.2 268.09h0M232.9 264.00h0M240.9 264.00h0M234.5 261.96h0M235.9 270.14h0M236.6 276.27h0M231.7 270.14h0M240.3 272.19h0M239.4 274.23h0M242.8 264.00h0M250.2 261.96h0M246.4 261.96h0M242.5 261.96h0M246.8 278.32h0M247.2 274.23h0M249.9 270.14h0M244.9 278.32h0M253.1 264.00h0M255.0 264.00h0M256.2 261.96h0M260.6 261.96h0M254.0 270.14h0M252.5 276.27h0M256.7 276.27h0M256.0 270.14h0M270.8 264.00h0M269.0 264.00h0M268.7 268.09h0M267.2 268.09h0M270.8 278.32h0M265.8 270.14h0M267.2 274.23h0M270.6 276.27h0M263.4 274.23h0M281.0 264.00h0M274.0 261.96h0M274.1 266.05h0M276.0 266.05h0M280.5 276.27h0M274.7 278.32h0M272.6 276.27h0M278.8 276.27h0M277.7 270.14h0M281.6 266.05h0M287.0 268.09h0M291.0 264.00h0M280.9 268.09h0M281.5 274.23h0M284.7 276.27h0M286.9 276.27h0M282.9 276.27h0M297.8 266.05h0M296.4 261.96h0M294.4 261.96h0M298.6 272.19h0M294.5 276.27h0M293.4 270.14h0M300.5 272.19h0M309.7 266.05h0M306.8 264.00h0M305.3 268.09h0M310.5 272.19h0M308.7 278.32h0M303.4 274.23h0M307.6 270.14h0M319.2 268.09h0M311.1 268.09h0M321.0 278.32h0M318.7 278.32h0M316.9 278.32h0M324.8 264.00h0M324.8 268.09h0M323.9 266.05h0M321.8 270.14h0M323.4 274.23h0M329.5 270.14h0M332.1 266.05h0M334.5 261.96h0M335.0 268.09h0M337.6 266.05h0M337.4 270.14h0M334.5 278.32h0M337.1 278.32h0M338.7 276.27h0M333.1 274.23h0M345.3 268.09h0M345.1 264.00h0M346.4 261.96h0M342.8 268.09h0M344.1 261.96h0M342.8 272.19h0M350.8 272.19h0M341.4 274.23h0M344.6 272.19h0M342.9 278.32h0M357.1 268.09h0M358.0 266.05h0M356.8 264.00h0M356.2 261.96h0M358.9 268.09h0M353.3 274.23h0M361.0 278.32h0M352.9 276.27h0M351.4 270.14h0M360.9 272.19h0M357.2 274.23h0M360.4 276.27h0M364.2 261.96h0M364.8 264.00h0M361.1 268.09h0M368.9 268.09h0M366.0 266.05h0M366.3 272.19h0M362.5 272.19h0M366.8 278.32h0M363.5 274.23h0M370.9 278.32h0M366.7 276.27h0M362.8 278.32h0M373.2 268.09h0M378.9 264.00h0M380.8 264.00h0M375.1 268.09h0M377.2 274.23h0M375.3 274.23h0M377.0 276.27h0M379.0 274.23h0M372.6 276.27h0M379.5 270.14h0M381.0 268.09h0M386.4 261.96h0M382.9 268.09h0M381.8 266.05h0M390.6 272.19h0M383.2 274.23h0M386.6 272.19h0M389.3 274.23h0M388.6 272.19h0M104.4 288.54h0M106.5 288.54h0M104.2 282.41h0M108.5 284.45h0M107.1 280.36h0M104.5 284.45h0M105.4 292.63h0M103.2 292.63h0M109.7 298.77h0M108.1 296.72h0M105.9 296.72h0M107.3 292.63h0M114.5 286.50h0M114.3 282.41h0M120.3 282.41h0M118.5 284.45h0M114.0 288.54h0M114.3 284.45h0M116.4 286.50h0M120.1 284.45h0M117.9 282.41h0M115.9 298.77h0M113.8 298.77h0M112.1 296.72h0M119.7 292.63h0M114.2 290.59h0M113.5 294.68h0M115.8 294.68h0M116.3 296.72h0M130.8 280.36h0M128.6 286.50h0M124.0 282.41h0M130.5 284.45h0M130.2 288.54h0M122.7 286.50h0M123.1 280.36h0M129.1 280.36h0M128.6 284.45h0M126.0 290.59h0M124.2 296.72h0M122.1 296.72h0M121.2 294.68h0M121.7 292.63h0M127.3 292.63h0M126.0 296.72h0M127.9 298.77h0M130.0 290.59h0M140.2 282.41h0M140.2 284.45h0M137.2 280.36h0M137.0 286.50h0M132.0 282.41h0M140.0 288.54h0M132.1 284.45h0M132.3 288.54h0M134.3 284.45h0M134.5 286.50h0M131.4 294.68h0M134.3 296.72h0M137.4 292.63h0M132.2 290.59h0M137.7 294.68h0M131.6 298.77h0M132.0 296.72h0M140.3 290.59h0M135.8 294.68h0M142.5 284.45h0M144.4 286.50h0M146.1 288.54h0M148.8 280.36h0M150.5 286.50h0M144.3 282.41h0M144.7 280.36h0M142.8 280.36h0M150.2 282.41h0M142.1 288.54h0M148.2 290.59h0M142.2 296.72h0M143.6 298.77h0M144.1 296.72h0M149.9 290.59h0M144.3 290.59h0M147.5 292.63h0M147.6 298.77h0M141.3 294.68h0M156.5 286.50h0M152.5 288.54h0M158.1 282.41h0M156.6 284.45h0M156.3 288.54h0M158.8 286.50h0M160.7 280.36h0M154.3 288.54h0M156.9 280.36h0M154.7 286.50h0M151.7 292.63h0M152.3 290.59h0M154.4 290.59h0M157.9 296.72h0M151.3 294.68h0M159.9 298.77h0M153.6 298.77h0M155.7 292.63h0M157.9 298.77h0M153.3 292.63h0M166.4 284.45h0M162.4 284.45h0M168.3 282.41h0M170.3 288.54h0M168.7 286.50h0M167.2 280.36h0M168.4 288.54h0M166.5 288.54h0M170.4 284.45h0M170.1 296.72h0M168.2 296.72h0M169.7 294.68h0M165.3 294.68h0M164.0 290.59h0M165.9 290.59h0M165.7 292.63h0M167.5 292.63h0M161.9 296.72h0M174.7 280.36h0M178.9 286.50h0M171.8 282.41h0M178.5 284.45h0M174.3 284.45h0M176.6 286.50h0M172.8 280.36h0M172.4 284.45h0M174.0 288.54h0M176.1 282.41h0M174.0 290.59h0M179.8 292.63h0M172.0 290.59h0M175.3 294.68h0M179.9 296.72h0M177.3 292.63h0M178.0 298.77h0M171.6 292.63h0M171.5 294.68h0M182.5 284.45h0M186.4 288.54h0M188.4 284.45h0M182.1 288.54h0M184.1 284.45h0M191.2 280.36h0M185.0 280.36h0M182.8 286.50h0M188.8 286.50h0M188.0 296.72h0M183.9 298.77h0M181.9 298.77h0M189.4 292.63h0M187.7 294.68h0M189.6 298.77h0M184.2 290.59h0M186.2 290.59h0M181.9 290.59h0M196.1 288.54h0M196.7 280.36h0M194.1 282.41h0M200.1 282.41h0M196.7 286.50h0M198.6 284.45h0M200.8 286.50h0M194.7 280.36h0M191.8 282.41h0M194.6 286.50h0M200.1 296.72h0M195.4 292.63h0M195.9 296.72h0M199.9 290.59h0M194.1 290.59h0M194.1 296.72h0M198.3 296.72h0M199.6 298.77h0M193.6 294.68h0M195.3 294.68h0M206.2 282.41h0M209.1 280.36h0M206.1 288.54h0M210.7 286.50h0M202.2 284.45h0M208.6 284.45h0M209.9 282.41h0M210.2 288.54h0M208.7 286.50h0M202.4 288.54h0M203.6 298.77h0M201.3 292.63h0M203.8 296.72h0M202.0 296.72h0M202.2 290.59h0M206.1 298.77h0M205.4 292.63h0M207.7 294.68h0M203.2 292.63h0M220.8 280.36h0M216.7 286.50h0M215.0 280.36h0M212.4 286.50h0M217.0 280.36h0M216.3 288.54h0M220.2 284.45h0M212.4 282.41h0M213.8 296.72h0M215.5 292.63h0M215.5 298.77h0M219.5 292.63h0M216.0 290.59h0M215.8 294.68h0M214.0 298.77h0M218.3 296.72h0M222.1 284.45h0M222.1 282.41h0M227.9 282.41h0M226.9 286.50h0M222.7 286.50h0M227.0 280.36h0M224.4 288.54h0M224.2 282.41h0M223.4 294.68h0M227.9 298.77h0M225.9 290.59h0M230.0 290.59h0M228.0 296.72h0M226.2 296.72h0M229.7 294.68h0M238.4 288.54h0M239.9 282.41h0M233.0 280.36h0M236.0 282.41h0M234.5 284.45h0M237.9 296.72h0M235.7 298.77h0M236.3 296.72h0M232.1 290.59h0M237.2 294.68h0M242.8 286.50h0M244.0 284.45h0M242.4 284.45h0M244.4 282.41h0M249.0 280.36h0M247.8 290.59h0M247.6 298.77h0M249.8 296.72h0M244.3 290.59h0M246.0 298.77h0M260.2 282.41h0M256.5 284.45h0M255.0 280.36h0M259.0 280.36h0M260.4 286.50h0M255.9 296.72h0M255.6 298.77h0M256.0 290.59h0M253.8 298.77h0M268.0 282.41h0M271.2 280.36h0M268.6 286.50h0M270.2 288.54h0M268.1 290.59h0M263.8 298.77h0M268.0 296.72h0M270.3 290.59h0M276.3 288.54h0M272.6 284.45h0M274.9 280.36h0M271.6 298.77h0M275.8 294.68h0M273.3 292.63h0M286.7 286.50h0M286.2 288.54h0M282.8 280.36h0M285.8 296.72h0M283.5 294.68h0M289.5 298.77h0M298.8 286.50h0M294.2 288.54h0M294.9 286.50h0M300.5 288.54h0M293.6 294.68h0M300.3 296.72h0M292.1 296.72h0M299.2 294.68h0M306.4 288.54h0M304.2 288.54h0M304.4 286.50h0M302.5 288.54h0M302.0 298.77h0M307.9 290.59h0M305.4 292.63h0M302.3 290.59h0M303.9 290.59h0M320.7 286.50h0M318.0 282.41h0M318.7 286.50h0M312.4 282.41h0M318.2 288.54h0M317.6 294.68h0M318.1 290.59h0M313.7 294.68h0M311.2 294.68h0M313.6 292.63h0M329.2 280.36h0M327.9 282.41h0M330.2 288.54h0M330.6 284.45h0M326.7 280.36h0M321.8 298.77h0M330.2 296.72h0M329.4 294.68h0M323.4 292.63h0M329.6 298.77h0M332.2 288.54h0M333.1 280.36h0M338.7 280.36h0M341.2 280.36h0M334.5 284.45h0M333.6 294.68h0M337.9 298.77h0M332.3 296.72h0M339.4 294.68h0M346.4 288.54h0M348.2 284.45h0M342.9 280.36h0M350.7 286.50h0M344.8 286.50h0M342.0 290.59h0M345.3 294.68h0M347.3 292.63h0M343.7 292.63h0M350.2 290.59h0M358.5 288.54h0M354.1 282.41h0M352.8 280.36h0M352.1 282.41h0M356.4 284.45h0M356.1 288.54h0M351.2 292.63h0M355.2 292.63h0M351.6 294.68h0M356.0 298.77h0M359.8 298.77h0M353.9 298.77h0M364.0 282.41h0M368.4 288.54h0M366.2 284.45h0M364.2 284.45h0M364.8 280.36h0M364.0 288.54h0M361.6 298.77h0M361.8 296.72h0M369.7 292.63h0M365.9 290.59h0M363.7 292.63h0M361.6 292.63h0M363.9 290.59h0M374.1 282.41h0M380.4 282.41h0M377.0 280.36h0M376.0 288.54h0M378.5 286.50h0M376.2 282.41h0M377.9 282.41h0M374.3 296.72h0M379.6 292.63h0M376.1 298.77h0M380.1 290.59h0M374.0 298.77h0M374.2 290.59h0M371.5 294.68h0M388.9 280.36h0M384.5 288.54h0M390.6 284.45h0M390.2 282.41h0M390.8 280.36h0M388.7 286.50h0M389.6 294.68h0M383.7 294.68h0M388.1 296.72h0M385.7 298.77h0M387.7 292.63h0M382.3 290.59h0M385.4 292.63h0M103.3 302.86h0M103.8 309.00h0M101.1 306.95h0M114.5 300.81h0M111.7 309.00h0M120.4 300.81h0M117.6 306.95h0M119.3 313.08h0M115.4 311.04h0M115.4 315.13h0M127.5 302.86h0M130.9 304.90h0M122.4 300.81h0M123.2 302.86h0M125.9 319.22h0M127.7 311.04h0M128.3 317.17h0M121.4 315.13h0M133.6 302.86h0M138.5 300.81h0M139.6 306.95h0M131.7 309.00h0M135.3 302.86h0M135.6 306.95h0M132.9 304.90h0M133.3 315.13h0M137.4 319.22h0M131.5 311.04h0M139.2 315.13h0M132.5 317.17h0M131.6 319.22h0M136.2 317.17h0M150.8 304.90h0M144.1 300.81h0M145.9 309.00h0M149.4 302.86h0M141.3 302.86h0M148.4 300.81h0M143.2 306.95h0M145.3 306.95h0M145.1 315.13h0M149.1 315.13h0M149.7 311.04h0M150.0 319.22h0M145.3 311.04h0M147.2 313.08h0M143.0 313.08h0M154.7 304.90h0M155.2 302.86h0M157.0 302.86h0M157.1 306.95h0M160.1 300.81h0M158.6 304.90h0M157.2 315.13h0M153.7 311.04h0M159.2 313.08h0M153.4 319.22h0M155.8 311.04h0M155.7 319.22h0M159.8 319.22h0M161.5 306.95h0M165.6 302.86h0M161.4 302.86h0M165.3 306.95h0M163.7 309.00h0M161.6 309.00h0M169.1 306.95h0M163.0 313.08h0M169.3 315.13h0M170.4 317.17h0M165.0 313.08h0M169.6 319.22h0M163.5 315.13h0M162.5 317.17h0M171.3 302.86h0M176.3 300.81h0M177.4 306.95h0M177.9 309.00h0M173.2 306.95h0M180.5 304.90h0M173.2 315.13h0M177.6 319.22h0M176.2 317.17h0M175.1 315.13h0M172.6 317.17h0M173.2 311.04h0M181.2 302.86h0M183.4 302.86h0M181.4 306.95h0M185.6 306.95h0M184.3 300.81h0M184.7 304.90h0M181.0 313.08h0M183.5 311.04h0M185.3 311.04h0M181.6 311.04h0M185.7 319.22h0M190.3 317.17h0M195.5 306.95h0M194.2 300.81h0M192.7 304.90h0M199.9 309.00h0M200.6 304.90h0M196.5 304.90h0M192.4 317.17h0M191.2 315.13h0M209.6 309.00h0M203.1 302.86h0M206.9 304.90h0M208.7 304.90h0M202.1 300.81h0M218.2 300.81h0M219.0 304.90h0M211.3 306.95h0M213.3 306.95h0M226.6 300.81h0M221.6 309.00h0M227.4 302.86h0M235.1 306.95h0M237.2 302.86h0M234.4 300.81h0M239.0 304.90h0M244.7 304.90h0M243.4 306.95h0M246.9 304.90h0M251.4 306.95h0M251.8 309.00h0M269.5 302.86h0M270.6 300.81h0M279.7 309.00h0M297.1 302.86h0M295.8 309.00h0M307.0 302.86h0M309.1 306.95h0M313.7 309.00h0M316.6 304.90h0M319.7 309.00h0M324.6 304.90h0M327.3 302.86h0M329.5 302.86h0M331.3 302.86h0M340.1 300.81h0M333.0 304.90h0M335.5 302.86h0M331.9 309.00h0M348.9 304.90h0M343.8 309.00h0M341.3 306.95h0M347.3 306.95h0M350.9 304.90h0M349.5 302.86h0M360.1 300.81h0M355.6 306.95h0M359.7 306.95h0M351.9 309.00h0M358.6 300.81h0M358.5 304.90h0M365.5 306.95h0M369.9 309.00h0M367.0 304.90h0M367.4 302.86h0M369.2 306.95h0M367.4 306.95h0M375.3 302.86h0M377.6 309.00h0M381.0 304.90h0M371.6 306.95h0M379.7 306.95h0M372.2 300.81h0M373.5 309.00h0M383.3 306.95h0M389.1 302.86h0M386.5 304.90h0M381.1 306.95h0M387.1 306.95h0M383.5 302.86h0M120.0 323.31h0M117.7 327.40h0M113.6 323.31h0M115.2 321.26h0M117.6 335.58h0M114.1 331.49h0M128.3 329.44h0M130.1 327.40h0M129.8 323.31h0M121.9 323.31h0M125.5 323.31h0M129.6 335.58h0M128.5 331.49h0M131.2 325.35h0M137.8 323.31h0M134.2 329.44h0M133.6 327.40h0M139.7 323.31h0M138.7 321.26h0M131.9 327.40h0M132.0 335.58h0M136.5 331.49h0M134.5 331.49h0M140.0 335.58h0M145.4 325.35h0M145.5 327.40h0M145.5 323.31h0M143.7 323.31h0M148.7 321.26h0M145.1 321.26h0M146.9 321.26h0M149.9 333.53h0M149.6 335.58h0M148.7 331.49h0M143.7 335.58h0M151.6 323.31h0M152.9 321.26h0M158.9 321.26h0M151.2 325.35h0M159.8 323.31h0M157.3 325.35h0M158.0 327.40h0M156.3 331.49h0M159.9 333.53h0M154.7 331.49h0M158.6 331.49h0M168.4 329.44h0M170.2 329.44h0M167.9 323.31h0M161.5 323.31h0M161.8 327.40h0M166.0 323.31h0M163.4 325.35h0M169.5 335.58h0M161.5 335.58h0M166.7 331.49h0M170.6 331.49h0M179.8 323.31h0M171.5 327.40h0M171.6 323.31h0M177.6 325.35h0M174.0 327.40h0M177.8 327.40h0M175.9 323.31h0M177.7 333.53h0M174.4 331.49h0M176.0 333.53h0M187.3 325.35h0M188.7 329.44h0M182.0 327.40h0M185.4 323.31h0M185.6 327.40h0M186.3 329.44h0M186.2 331.49h0M188.3 331.49h0M189.6 333.53h0M193.6 323.31h0M192.8 321.26h0M191.6 323.31h0M192.4 331.49h0M191.7 333.53h0M394.8 235.37h0M403.5 235.37h0M414.9 235.37h0M417.0 235.37h0M449.1 235.37h0M417.9 237.42h0M453.4 237.42h0M400.9 239.46h0M409.2 239.46h0M423.9 239.46h0M435.2 239.46h0M436.9 239.46h0M461.7 239.46h0M464.7 239.46h0M396.5 241.51h0M412.7 241.51h0M429.1 241.51h0M432.6 241.51h0M460.3 241.51h0M465.2 241.51h0M406.3 243.55h0M418.7 243.55h0M424.8 243.55h0M452.0 243.55h0M391.0 245.60h0M439.2 245.60h0M448.2 245.60h0M453.1 245.60h0M438.7 247.64h0M454.3 247.64h0M456.0 247.64h0M436.1 249.69h0M468.1 249.69h0M456.5 251.73h0M400.5 253.78h0M402.8 253.78h0M443.9 253.78h0M456.5 253.78h0M462.9 253.78h0M468.1 253.78h0M397.9 255.82h0M404.9 255.82h0M446.5 255.82h0M392.7 257.87h0M395.3 257.87h0M406.6 257.87h0M409.2 257.87h0M425.7 257.87h0M442.1 257.87h0M449.1 257.87h0M396.2 259.91h0M405.7 259.91h0M444.7 259.91h0M460.3 259.91h0M391.0 261.96h0M395.9 261.96h0M407.5 261.96h0M413.2 261.96h0M428.3 261.96h0M453.4 261.96h0M463.8 261.96h0M399.7 264.00h0M401.4 264.00h0M443.9 264.00h0M450.8 264.00h0M399.7 266.05h0M403.1 266.05h0M444.7 266.05h0M460.3 266.05h0M399.7 268.09h0M446.5 268.09h0M397.1 270.14h0M406.3 270.14h0M459.5 270.14h0M397.9 272.19h0M401.7 272.19h0M456.9 272.19h0M466.8 272.19h0M394.8 274.23h0M463.8 274.23h0M467.3 278.32h0M392.7 280.36h0M469.0 280.36h0M392.7 284.45h0M394.5 284.45h0M398.8 284.45h0M421.9 284.45h0M439.5 284.45h0M395.3 286.50h0M397.1 286.50h0M394.5 288.54h0M406.6 288.54h0M433.5 288.54h0M406.6 292.63h0M393.6 292.63h0M404.9 292.63h0M423.1 294.68h0M424.8 298.77h0M434.3 298.77h0M437.8 300.81h0M428.3 302.86h0M400.5 302.86h0M396.2 296.72h0M398.8 298.77h0M429.1 306.95h0M443.0 306.95h0M391.0 311.04h0M401.1 311.04h0M439.5 311.04h0M394.5 317.17h0M423.9 321.26h0M428.3 325.35h0M438.7 321.26h0M447.3 321.26h0M398.8 325.35h0M399.7 323.31h0M416.1 327.40h0M410.1 329.44h0M435.2 327.40h0M436.9 327.40h0M440.4 331.49h0M412.7 331.49h0M411.8 333.53h0M432.6 333.53h0M432.6 335.58h0M432.3 337.62h0M403.1 335.58h0M404.9 337.62h0M443.9 337.62h0M401.4 339.67h0M415.3 341.71h0M438.7 339.67h0M439.5 341.71h0M424.8 343.76h0M437.8 343.76h0M441.3 343.76h0M391.0 343.76h0M391.0 343.76h0M419.6 345.80h0M430.0 345.80h0M443.9 345.80h0M444.7 347.85h0M417.0 347.85h0M435.2 347.85h0M396.2 347.85h0M398.8 349.89h0M412.7 351.94h0M429.1 349.89h0M430.9 351.94h0M441.3 349.89h0M438.7 351.94h0M408.3 353.98h0M411.8 356.03h0M427.4 353.98h0M436.1 353.98h0M423.1 356.03h0M431.7 356.03h0M409.2 358.07h0M424.8 358.07h0M433.5 358.07h0M414.4 360.12h0M423.9 360.12h0M421.3 362.16h0M421.3 364.21h0M422.2 366.25h0M416.1 368.30h0M410.4 370.34h0M78.2 239.46h0M91.7 239.46h0M76.1 243.55h0M88.2 243.55h0M92.5 243.55h0M94.3 243.55h0M48.3 245.60h0M59.6 245.60h0M67.1 245.60h0M90.8 245.60h0M56.7 247.64h0M71.7 247.64h0M82.1 247.64h0M87.3 247.64h0M97.7 247.64h0M68.3 253.78h0M77.5 253.78h0M93.4 253.78h0M96.9 253.78h0M89.6 255.82h0M68.3 257.87h0M82.7 257.87h0M91.7 257.87h0M93.4 257.87h0M100.3 257.87h0M80.4 259.91h0M70.0 261.96h0M86.5 261.96h0M97.7 261.96h0M68.3 266.05h0M82.1 266.05h0M98.6 266.05h0M71.7 266.05h0M79.5 266.05h0M84.4 266.05h0M87.3 266.05h0M95.1 266.05h0M99.5 266.05h0M77.8 268.09h0M90.8 268.09h0M93.1 268.09h0M97.7 268.09h0M59.6 270.14h0M75.2 270.14h0M89.1 270.14h0M56.7 274.23h0M69.5 274.23h0M94.3 274.23h0M96.9 274.23h0M68.3 278.32h0M73.5 278.32h0M90.8 278.32h0M94.3 278.32h0M96.0 278.32h0M99.5 278.32h0M53.5 280.36h0M61.3 280.36h0M71.7 280.36h0M80.4 280.36h0M84.7 280.36h0M92.5 280.36h0M96.9 280.36h0M98.6 280.36h0M55.3 282.41h0M58.7 282.41h0M62.2 282.41h0M70.0 282.41h0M81.3 282.41h0M91.7 282.41h0M93.4 282.41h0M97.7 282.41h0M64.8 284.45h0M68.3 284.45h0M71.7 284.45h0M76.1 284.45h0M77.8 284.45h0M83.0 284.45h0M88.2 284.45h0M94.3 284.45h0M54.4 288.54h0M70.9 288.54h0M74.3 288.54h0M80.4 288.54h0M96.0 288.54h0M55.3 290.59h0M72.6 290.59h0M82.1 290.59h0M83.9 290.59h0M97.7 290.59h0M56.1 292.63h0M63.9 292.63h0M70.0 292.63h0M73.5 292.63h0M78.7 292.63h0M95.1 292.63h0M62.2 294.68h0M65.7 294.68h0M71.7 294.68h0M76.9 294.68h0M88.2 294.68h0M70.0 296.72h0M79.5 296.72h0M85.6 296.72h0M61.3 298.77h0M79.5 298.77h0M88.2 298.77h0M71.7 300.81h0M82.1 300.81h0M84.7 300.81h0M86.5 300.81h0M78.7 302.86h0M83.0 302.86h0M89.9 302.86h0M77.8 304.90h0M91.7 304.90h0M84.7 304.90h0M88.2 304.90h0M83.0 306.95h0M89.9 306.95h0M88.2 311.04h0M91.7 311.04h0M87.3 315.13h0M89.1 317.17h0M90.8 317.17h0M96.9 313.08h0M101.2 315.13h0M108.1 315.13h0M111.6 317.17h0M91.7 319.22h0M97.7 319.22h0M92.5 321.26h0M89.9 321.26h0M89.1 323.31h0M93.4 325.35h0M102.1 325.35h0M97.7 323.31h0M87.3 327.40h0M86.5 327.40h0M88.2 327.40h0M89.1 329.44h0M88.2 329.44h0M92.5 329.44h0M101.2 327.40h0M109.9 329.44h0M108.1 331.49h0M93.4 333.53h0M94.3 333.53h0M89.9 335.58h0M102.1 335.58h0M83.0 337.62h0M83.9 339.67h0M90.8 339.67h0M101.2 337.62h0M102.1 339.67h0M91.7 341.71h0M94.3 343.76h0M102.1 341.71h0M104.7 343.76h0M89.1 345.80h0M102.1 345.80h0M90.8 347.85h0M102.9 347.85h0M89.9 349.89h0M98.6 349.89h0M89.1 351.94h0M96.0 351.94h0M89.9 353.98h0M92.5 353.98h0M104.7 353.98h0M92.5 356.03h0M102.1 356.03h0M83.0 358.07h0M96.9 358.07h0M81.3 360.12h0M103.8 360.12h0M63.9 360.12h0M63.1 362.16h0M67.4 362.16h0M66.5 364.21h0M70.0 364.21h0M76.1 362.16h0M83.9 366.25h0M89.9 364.21h0M92.5 362.16h0M95.1 366.25h0M126.9 339.67h0M132.9 337.62h0M137.3 337.62h0M145.1 337.62h0M149.4 337.62h0M156.3 339.67h0M159.8 337.62h0M165.9 337.62h0M171.1 339.67h0M174.5 337.62h0M179.7 339.67h0M185.8 339.67h0M191.0 339.67h0M126.9 341.71h0M149.4 339.67h0M174.5 341.71h0M179.7 341.71h0M122.5 345.80h0M132.1 343.76h0M136.4 343.76h0M152.0 343.76h0M171.1 343.76h0M179.7 345.80h0M121.7 347.85h0M142.5 347.85h0M146.8 345.80h0M150.3 347.85h0M168.5 347.85h0M172.8 347.85h0M132.9 349.89h0M127.7 351.94h0M137.3 351.94h0M142.5 351.94h0M145.1 351.94h0M154.6 353.98h0M158.9 351.94h0M165.0 351.94h0M177.1 353.98h0M129.5 356.03h0M134.7 358.07h0M139.9 358.07h0M140.7 360.12h0M149.4 358.07h0M150.3 356.03h0M156.3 360.12h0M161.5 356.03h0M162.4 358.07h0M172.8 356.03h0M173.7 358.07h0M176.3 358.07h0M139.9 362.16h0M156.3 362.16h0M170.2 360.12h0M172.8 360.12h0M176.3 362.16h0M134.7 364.21h0M151.1 364.21h0M170.2 364.21h0M169.3 366.25h0M134.7 368.30h0M132.9 370.34h0M139.0 366.25h0M139.9 368.30h0M151.1 366.25h0M157.2 366.25h0M158.1 368.30h0M172.8 368.30h0M173.7 370.34h0M139.0 372.39h0M148.5 372.39h0M151.1 370.34h0M161.5 372.39h0M176.3 372.39h0M198.5 311.04h0M206.3 311.04h0M210.6 315.13h0M224.5 311.04h0M234.9 315.13h0M239.2 311.04h0M247.9 315.13h0M255.7 311.04h0M263.5 315.13h0M271.3 311.04h0M196.7 317.17h0M201.1 319.22h0M205.4 317.17h0M211.5 319.22h0M218.4 321.26h0M228.8 319.22h0M237.5 321.26h0M247.0 319.22h0M252.2 319.22h0M254.8 319.22h0M258.3 317.17h0M268.7 321.26h0M253.9 321.26h0M196.7 321.26h0M197.6 323.31h0M201.6 325.35h0M203.7 325.35h0M211.0 325.35h0M220.1 325.35h0M223.6 327.40h0M227.1 327.40h0M226.2 329.44h0M240.4 327.40h0M261.4 323.31h0M261.4 325.35h0M264.9 327.40h0M259.1 329.44h0M260.5 331.49h0M202.8 333.53h0M210.6 333.53h0M208.9 335.58h0M212.3 335.58h0M222.7 335.58h0M233.5 333.53h0M234.0 335.58h0M256.5 333.53h0M273.9 335.58h0M196.7 337.62h0M201.9 337.62h0M207.1 337.62h0M221.0 339.67h0M223.6 339.67h0M227.1 339.67h0M233.1 337.62h0M259.1 337.62h0M272.1 339.67h0M198.5 339.67h0M207.1 339.67h0M211.5 339.67h0M214.1 341.71h0M215.8 341.71h0M223.6 341.71h0M235.7 341.71h0M270.4 341.71h0M199.3 341.71h0M205.4 343.76h0M208.0 343.76h0M210.6 345.80h0M206.3 345.80h0M217.5 343.76h0M219.3 345.80h0M232.3 343.76h0M234.0 345.80h0M199.9 347.85h0M207.1 347.85h0M217.5 347.85h0M233.1 347.85h0M217.5 349.89h0M228.8 349.89h0M220.1 351.94h0M229.7 351.94h0M232.3 353.98h0M231.4 356.03h0M228.3 360.12h0M277.9 315.13h0M298.2 311.04h0M312.5 315.13h0M318.6 315.13h0M328.1 315.13h0M345.5 311.04h0M346.3 313.08h0M350.7 311.04h0M353.3 315.13h0M354.1 317.17h0M298.7 317.17h0M299.5 319.22h0M321.2 317.17h0M325.5 317.17h0M328.1 319.22h0M330.7 319.22h0M344.6 317.17h0M347.2 319.22h0M348.9 319.22h0M355.9 319.22h0M305.6 321.26h0M336.8 321.26h0M337.7 321.26h0M343.7 321.26h0M297.8 323.31h0M301.3 325.35h0M332.1 323.31h0M341.1 325.35h0M342.9 323.31h0M355.0 323.31h0M358.1 323.31h0M284.8 329.44h0M298.7 327.40h0M303.9 329.44h0M317.7 327.40h0M324.7 325.35h0M322.9 329.44h0M326.9 329.44h0M334.2 327.40h0M335.6 329.44h0M353.3 327.40h0M358.5 327.40h0M303.9 331.49h0M304.7 333.53h0M335.9 331.49h0M336.8 333.53h0M352.4 329.44h0M351.5 331.49h0M348.1 333.53h0M302.7 335.58h0M316.0 335.58h0M316.9 337.62h0M322.4 333.53h0M331.6 335.58h0M336.8 337.62h0M338.5 337.62h0M348.9 335.58h0M294.3 337.62h0M295.2 339.67h0M310.8 339.67h0M316.0 339.67h0M328.1 339.67h0M350.7 339.67h0M300.9 339.67h0M300.4 341.71h0M327.3 341.71h0M354.1 341.71h0M277.9 343.76h0M279.6 345.80h0M307.3 343.76h0M303.9 345.80h0M324.7 345.80h0M334.2 343.76h0M333.3 345.80h0M281.3 347.85h0M298.7 347.85h0M306.5 347.85h0M325.5 347.85h0M327.3 349.89h0M286.5 349.89h0M309.1 349.89h0M293.5 351.94h0M309.9 351.94h0M319.5 351.94h0M297.8 353.98h0M313.4 353.98h0M316.0 353.98h0M292.6 356.03h0M304.7 356.03h0M291.7 358.07h0M303.9 358.07h0M297.8 360.12h0M295.2 362.16h0M360.1 315.13h0M364.5 311.04h0M359.3 317.17h0M361.9 317.17h0M361.0 319.22h0M362.7 319.22h0M360.1 321.26h0M361.9 321.26h0M365.3 323.31h0M359.3 323.31h0M359.3 325.35h0M361.0 327.40h0M362.7 325.35h0M370.5 327.40h0M374.9 319.22h0M377.5 321.26h0M378.3 323.31h0M383.5 317.17h0M382.7 325.35h0M380.1 329.44h0M381.8 331.49h0M387.9 327.40h0M390.1 329.44h0M363.6 329.44h0M361.9 329.44h0M367.1 331.49h0M368.8 333.53h0M367.1 335.58h0M369.7 335.58h0M367.1 337.62h0M382.7 333.53h0M383.5 339.67h0M384.4 341.71h0M390.5 343.76h0M390.5 345.80h0M389.6 351.94h0M381.8 315.13h0"/>
<line x1="47" y1="220" x2="218.4" y2="85.9" stroke="#000" stroke-width="0.85"/>
<line x1="47" y1="220" x2="280.1" y2="98.4" stroke="#000" stroke-width="0.85"/>
<line x1="47" y1="220" x2="297.3" y2="94.2" stroke="#000" stroke-width="0.85"/>
<line x1="47" y1="220" x2="306.8" y2="102.8" stroke="#000" stroke-width="0.85"/>
<line x1="47" y1="220" x2="225.2" y2="150.1" stroke="#000" stroke-width="0.85"/>
<line x1="47" y1="220" x2="261.5" y2="147.7" stroke="#000" stroke-width="0.85"/>
<line x1="47" y1="220" x2="434.3" y2="170.9" stroke="#000" stroke-width="0.85"/>
<line x1="47" y1="220" x2="434.3" y2="191.6" stroke="#000" stroke-width="0.85"/>
<line x1="47" y1="220" x2="352.4" y2="195.8" stroke="#000" stroke-width="0.85"/>
<line x1="47" y1="220" x2="277.6" y2="195.7" stroke="#000" stroke-width="0.85"/>
<line x1="47" y1="220" x2="313.6" y2="249.5" stroke="#000" stroke-width="0.85"/>
<line x1="47" y1="220" x2="300.3" y2="256.1" stroke="#000" stroke-width="0.85"/>
<line x1="47" y1="220" x2="318.0" y2="268.5" stroke="#000" stroke-width="0.85"/>
<line x1="47" y1="220" x2="246.0" y2="270.3" stroke="#000" stroke-width="0.85"/>
<line x1="47" y1="220" x2="178.5" y2="282.7" stroke="#000" stroke-width="0.85"/>
<line x1="47" y1="220" x2="268.2" y2="300.7" stroke="#000" stroke-width="0.85"/>
<line x1="47" y1="220" x2="220.9" y2="299.0" stroke="#000" stroke-width="0.85"/>
<line x1="47" y1="220" x2="391.8" y2="301.8" stroke="#000" stroke-width="0.85"/>
<line x1="47" y1="220" x2="188.5" y2="328.0" stroke="#000" stroke-width="0.85"/>
<line x1="47" y1="220" x2="452.8" y2="334.9" stroke="#000" stroke-width="0.85"/>
<line x1="47" y1="220" x2="306.8" y2="198.4" stroke="#008000" stroke-width="1.35"/>
<line x1="47" y1="220" x2="250.9" y2="204.0" stroke="#008000" stroke-width="1.35"/>
<line x1="47" y1="220" x2="238.0" y2="264.0" stroke="#008000" stroke-width="1.35"/>
<line x1="47" y1="220" x2="285.1" y2="289.2" stroke="#008000" stroke-width="1.35"/>
<polygon points="47.00,215.00 48.23,218.30 51.76,218.45 49.00,220.65 49.94,224.05 47.00,222.10 44.06,224.05 45.00,220.65 42.24,218.45 45.77,218.30" fill="#FFA500"/>
<text x="217.8" y="82.7" font-family="Liberation Sans, sans-serif" font-weight="bold" font-size="8.6" fill="#000" stroke="#000" stroke-width="0.25">RF7</text>
<text x="278.0" y="94.0" font-family="Liberation Sans, sans-serif" font-weight="bold" font-size="8.6" fill="#000" stroke="#000" stroke-width="0.25">RF3</text>
<text x="297.09999999999997" y="91.4" font-family="Liberation Sans, sans-serif" font-weight="bold" font-size="8.6" fill="#000" stroke="#000" stroke-width="0.25">RF1</text>
<text x="308.09999999999997" y="100.6" font-family="Liberation Sans, sans-serif" font-weight="bold" font-size="8.6" fill="#000" stroke="#000" stroke-width="0.25">RF2</text>
<text x="227.20000000000002" y="154.0" font-family="Liberation Sans, sans-serif" font-weight="bold" font-size="8.6" fill="#000" stroke="#000" stroke-width="0.25">RF9</text>
<text x="262.29999999999995" y="148.2" textLength="22.2" lengthAdjust="spacingAndGlyphs" font-family="Liberation Sans, sans-serif" font-weight="bold" font-size="8.6" fill="#000" stroke="#000" stroke-width="0.25">RF11</text>
<text x="435.2" y="171.2" textLength="22.2" lengthAdjust="spacingAndGlyphs" font-family="Liberation Sans, sans-serif" font-weight="bold" font-size="8.6" fill="#000" stroke="#000" stroke-width="0.25">RF10</text>
<text x="435.2" y="192.4" font-family="Liberation Sans, sans-serif" font-weight="bold" font-size="8.6" fill="#000" stroke="#000" stroke-width="0.25">RF4</text>
<text x="363.09999999999997" y="195.3" font-family="Liberation Sans, sans-serif" font-weight="bold" font-size="8.6" fill="#000" stroke="#000" stroke-width="0.25">RF5</text>
<text x="285.9" y="198.6" font-family="Liberation Sans, sans-serif" font-weight="bold" font-size="8.6" fill="#000" stroke="#000" stroke-width="0.25">RF6</text>
<text x="306.79999999999995" y="197.4" textLength="22.2" lengthAdjust="spacingAndGlyphs" font-family="Liberation Sans, sans-serif" font-weight="bold" font-size="8.6" fill="#008000" stroke="#008000" stroke-width="0.25">RF12</text>
<text x="249.1" y="213.8" font-family="Liberation Sans, sans-serif" font-weight="bold" font-size="8.6" fill="#008000" stroke="#008000" stroke-width="0.25">RF8</text>
<text x="314.29999999999995" y="252.7" font-family="Liberation Sans, sans-serif" font-weight="bold" font-size="8.6" fill="#000" stroke="#000" stroke-width="0.25">BF9</text>
<text x="301.59999999999997" y="262.6" font-family="Liberation Sans, sans-serif" font-weight="bold" font-size="8.6" fill="#000" stroke="#000" stroke-width="0.25">BF4</text>
<text x="317.7" y="270.4" font-family="Liberation Sans, sans-serif" font-weight="bold" font-size="8.6" fill="#000" stroke="#000" stroke-width="0.25">BF1</text>
<text x="237.9" y="265.5" font-family="Liberation Sans, sans-serif" font-weight="bold" font-size="8.6" fill="#008000" stroke="#008000" stroke-width="0.25">BF5</text>
<text x="246.1" y="273.5" textLength="22.2" lengthAdjust="spacingAndGlyphs" font-family="Liberation Sans, sans-serif" font-weight="bold" font-size="8.6" fill="#000" stroke="#000" stroke-width="0.25">BF11</text>
<text x="284.5" y="299.0" textLength="22.2" lengthAdjust="spacingAndGlyphs" font-family="Liberation Sans, sans-serif" font-weight="bold" font-size="8.6" fill="#008000" stroke="#008000" stroke-width="0.25">BF10</text>
<text x="175.70000000000002" y="292.3" font-family="Liberation Sans, sans-serif" font-weight="bold" font-size="8.6" fill="#000" stroke="#000" stroke-width="0.25">BF6</text>
<text x="268.79999999999995" y="307.5" font-family="Liberation Sans, sans-serif" font-weight="bold" font-size="8.6" fill="#000" stroke="#000" stroke-width="0.25">BF2</text>
<text x="219.3" y="310.0" textLength="22.2" lengthAdjust="spacingAndGlyphs" font-family="Liberation Sans, sans-serif" font-weight="bold" font-size="8.6" fill="#000" stroke="#000" stroke-width="0.25">BF11</text>
<text x="392.9" y="301.8" font-family="Liberation Sans, sans-serif" font-weight="bold" font-size="8.6" fill="#000" stroke="#000" stroke-width="0.25">BF8</text>
<text x="190.4" y="331.9" font-family="Liberation Sans, sans-serif" font-weight="bold" font-size="8.6" fill="#000" stroke="#000" stroke-width="0.25">BF3</text>
<text x="453.2" y="337.1" font-family="Liberation Sans, sans-serif" font-weight="bold" font-size="8.6" fill="#000" stroke="#000" stroke-width="0.25">BF7</text>
<path d="M30.5 0V440.4M30 0.5H473M472.5 0V440.4M30 439.9H473" fill="none" stroke="#4a4a4a" stroke-width="1"/>
<line x1="30.5" y1="415.52" x2="33.5" y2="415.52" stroke="#4a4a4a" stroke-width="1"/>
<text x="27.6" y="418.92" text-anchor="end" textLength="16.04" lengthAdjust="spacingAndGlyphs" font-family="Liberation Sans, sans-serif" font-size="8.6" fill="#000">−80</text>
<line x1="30.5" y1="366.64" x2="33.5" y2="366.64" stroke="#4a4a4a" stroke-width="1"/>
<text x="27.6" y="370.04" text-anchor="end" textLength="16.04" lengthAdjust="spacingAndGlyphs" font-family="Liberation Sans, sans-serif" font-size="8.6" fill="#000">−60</text>
<line x1="30.5" y1="317.76" x2="33.5" y2="317.76" stroke="#4a4a4a" stroke-width="1"/>
<text x="27.6" y="321.16" text-anchor="end" textLength="16.04" lengthAdjust="spacingAndGlyphs" font-family="Liberation Sans, sans-serif" font-size="8.6" fill="#000">−40</text>
<line x1="30.5" y1="268.88" x2="33.5" y2="268.88" stroke="#4a4a4a" stroke-width="1"/>
<text x="27.6" y="272.28" text-anchor="end" textLength="16.04" lengthAdjust="spacingAndGlyphs" font-family="Liberation Sans, sans-serif" font-size="8.6" fill="#000">−20</text>
<line x1="30.5" y1="220.00" x2="33.5" y2="220.00" stroke="#4a4a4a" stroke-width="1"/>
<text x="27.6" y="223.40" text-anchor="end" textLength="5.26" lengthAdjust="spacingAndGlyphs" font-family="Liberation Sans, sans-serif" font-size="8.6" fill="#000">0</text>
<line x1="30.5" y1="171.12" x2="33.5" y2="171.12" stroke="#4a4a4a" stroke-width="1"/>
<text x="27.6" y="174.52" text-anchor="end" textLength="10.52" lengthAdjust="spacingAndGlyphs" font-family="Liberation Sans, sans-serif" font-size="8.6" fill="#000">20</text>
<line x1="30.5" y1="122.24" x2="33.5" y2="122.24" stroke="#4a4a4a" stroke-width="1"/>
<text x="27.6" y="125.64" text-anchor="end" textLength="10.52" lengthAdjust="spacingAndGlyphs" font-family="Liberation Sans, sans-serif" font-size="8.6" fill="#000">40</text>
<line x1="30.5" y1="73.36" x2="33.5" y2="73.36" stroke="#4a4a4a" stroke-width="1"/>
<text x="27.6" y="76.76" text-anchor="end" textLength="10.52" lengthAdjust="spacingAndGlyphs" font-family="Liberation Sans, sans-serif" font-size="8.6" fill="#000">60</text>
<line x1="30.5" y1="24.48" x2="33.5" y2="24.48" stroke="#4a4a4a" stroke-width="1"/>
<text x="27.6" y="27.88" text-anchor="end" textLength="10.52" lengthAdjust="spacingAndGlyphs" font-family="Liberation Sans, sans-serif" font-size="8.6" fill="#000">80</text>
<line x1="47.00" y1="439.5" x2="47.00" y2="436.5" stroke="#4a4a4a" stroke-width="1"/>
<text x="47.00" y="449.2" text-anchor="middle" textLength="5.26" lengthAdjust="spacingAndGlyphs" font-family="Liberation Sans, sans-serif" font-size="8.6" fill="#000">0</text>
<line x1="112.54" y1="439.5" x2="112.54" y2="436.5" stroke="#4a4a4a" stroke-width="1"/>
<text x="112.54" y="449.2" text-anchor="middle" textLength="5.26" lengthAdjust="spacingAndGlyphs" font-family="Liberation Sans, sans-serif" font-size="8.6" fill="#000">2</text>
<line x1="178.08" y1="439.5" x2="178.08" y2="436.5" stroke="#4a4a4a" stroke-width="1"/>
<text x="178.08" y="449.2" text-anchor="middle" textLength="5.26" lengthAdjust="spacingAndGlyphs" font-family="Liberation Sans, sans-serif" font-size="8.6" fill="#000">4</text>
<line x1="243.62" y1="439.5" x2="243.62" y2="436.5" stroke="#4a4a4a" stroke-width="1"/>
<text x="243.62" y="449.2" text-anchor="middle" textLength="5.26" lengthAdjust="spacingAndGlyphs" font-family="Liberation Sans, sans-serif" font-size="8.6" fill="#000">6</text>
<line x1="309.16" y1="439.5" x2="309.16" y2="436.5" stroke="#4a4a4a" stroke-width="1"/>
<text x="309.16" y="449.2" text-anchor="middle" textLength="5.26" lengthAdjust="spacingAndGlyphs" font-family="Liberation Sans, sans-serif" font-size="8.6" fill="#000">8</text>
<line x1="374.70" y1="439.5" x2="374.70" y2="436.5" stroke="#4a4a4a" stroke-width="1"/>
<text x="374.70" y="449.2" text-anchor="middle" textLength="10.52" lengthAdjust="spacingAndGlyphs" font-family="Liberation Sans, sans-serif" font-size="8.6" fill="#000">10</text>
<line x1="440.24" y1="439.5" x2="440.24" y2="436.5" stroke="#4a4a4a" stroke-width="1"/>
<text x="440.24" y="449.2" text-anchor="middle" textLength="10.52" lengthAdjust="spacingAndGlyphs" font-family="Liberation Sans, sans-serif" font-size="8.6" fill="#000">12</text>
<text x="251.5" y="460.1" text-anchor="middle" textLength="102" lengthAdjust="spacingAndGlyphs" font-family="Liberation Sans, sans-serif" font-size="8.6" fill="#000">Project Distance [arcsecs]</text>
<text transform="translate(9.3,220) rotate(-90)" text-anchor="middle" textLength="88" lengthAdjust="spacingAndGlyphs" font-family="Liberation Sans, sans-serif" font-size="8.6" fill="#000">Radial Velocity [km/s]</text>
</svg></body></html>
